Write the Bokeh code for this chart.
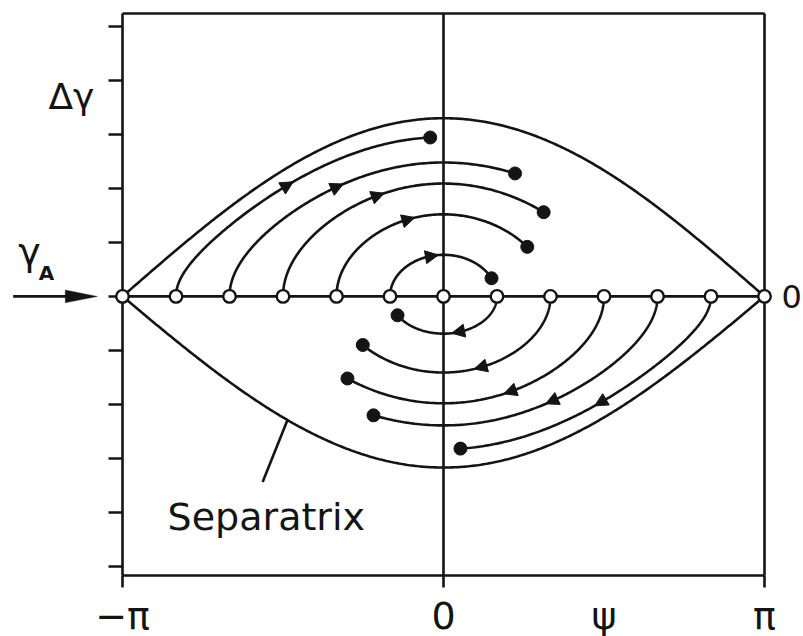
import numpy as np
from bokeh.plotting import figure
from bokeh.models import (Range1d, FixedTicker, Label, Arrow, NormalHead,
                          ColumnDataSource, LinearAxis, PolyAnnotation)
from bokeh.embed import file_html
from bokeh.resources import INLINE

PI = np.pi

# electrons enter on resonance (delta gamma = 0) at phases k * pi/6
entry_steps = list(range(-6, 7))

# separatrix half-heights above / below the resonant energy
sep_height_upper = 3.30
sep_height_lower = 3.17

# trajectories in the upper half (start left of psi = 0, move right)
upper_start_steps = [-5, -4, -3, -2, -1]
upper_peak = [2.95, 2.48, 2.09, 1.52, 0.77]
upper_end_phase = [-0.13, 0.70, 0.98, 0.82, 0.47]
upper_arrow_phase = [-1.53, -1.04, -0.64, -0.34, -0.11]

# trajectories in the lower half (start right of psi = 0, move left)
lower_start_steps = [1, 2, 3, 4, 5]
lower_peak = [0.69, 1.41, 1.98, 2.39, 2.83]
lower_end_phase = [-0.45, -0.79, -0.94, -0.685, 0.166]
lower_arrow_phase = [0.14, 0.36, 0.65, 1.06, 1.54]

# plotted box and its ticks
box_psi = (-PI, PI)
box_dgamma = (-5.17, 5.24)
y_ticks = [-5, -4, -3, -2, -1, 0, 1, 2, 3, 4, 5]
x_marks = [-PI, 0.0, PI]
x_label_pos = [-PI, 0.0, PI / 2, PI]
x_labels = ["\u2212\u03c0", "0", "\u03c8", "\u03c0"]

FONT = "DejaVu Sans"
INK = "#141414"
LW = 2.6

# canvas layout: the box sits inside the page with these margins (px)
W, H = 803, 636
M_LEFT, M_RIGHT, M_TOP, M_BOTTOM = 122, 39, 13, 61
sx = (W - M_LEFT - M_RIGHT) / (box_psi[1] - box_psi[0])
sy = (H - M_TOP - M_BOTTOM) / (box_dgamma[1] - box_dgamma[0])


def orbit(psi0, peak, psi):
    """Pendulum orbit through (psi0, 0) scaled to the given peak height."""
    r = (np.cos(psi) - np.cos(psi0)) / (1.0 - np.cos(psi0))
    return peak * np.sqrt(np.clip(r, 0.0, None))


p = figure(width=W, height=H,
           x_range=Range1d(box_psi[0] - M_LEFT / sx, box_psi[1] + M_RIGHT / sx),
           y_range=Range1d(box_dgamma[0] - M_BOTTOM / sy, box_dgamma[1] + M_TOP / sy),
           output_backend="svg", toolbar_location=None,
           min_border_left=0, min_border_right=0, min_border_top=0, min_border_bottom=0)
p.xgrid.visible = False
p.ygrid.visible = False
p.outline_line_color = None
p.background_fill_color = "white"
p.border_fill_color = "white"

# left axis along psi = -pi: unlabelled ticks
ya = p.yaxis[0]
ya.fixed_location = box_psi[0]
ya.bounds = box_dgamma
ya.ticker = FixedTicker(ticks=y_ticks)
ya.major_tick_out = 14
ya.major_tick_in = 0
ya.minor_tick_line_color = None
ya.major_tick_line_width = LW
ya.major_tick_line_color = INK
ya.axis_line_width = LW
ya.axis_line_color = INK
ya.major_label_text_color = None
ya.major_label_text_font_size = "1px"

# bottom axis: tick marks at -pi, 0, pi; labels include the phase symbol
xa = p.xaxis[0]
xa.fixed_location = box_dgamma[0]
xa.bounds = box_psi
xa.ticker = FixedTicker(ticks=x_label_pos, minor_ticks=x_marks)
xa.major_label_overrides = {t: s for t, s in zip(x_label_pos, x_labels)}
xa.major_tick_line_color = None
xa.major_tick_out = 0
xa.major_tick_in = 0
xa.minor_tick_out = 12
xa.minor_tick_in = 0
xa.minor_tick_line_width = LW
xa.minor_tick_line_color = INK
xa.axis_line_width = LW
xa.axis_line_color = INK
xa.major_label_text_font = FONT
xa.major_label_text_font_size = "38px"
xa.major_label_text_color = INK
xa.major_label_standoff = 6

# right axis along psi = pi: resonant energy marker
ra = LinearAxis(fixed_location=box_psi[1], bounds=box_dgamma,
                ticker=FixedTicker(ticks=[0]), major_label_overrides={0: "0"},
                major_tick_line_color=None, minor_tick_line_color=None,
                axis_line_color=INK, axis_line_width=LW,
                major_tick_out=0, major_tick_in=0,
                major_label_standoff=17, major_label_text_font=FONT,
                major_label_text_font_size="32px", major_label_text_color=INK)
p.add_layout(ra, "right")

# top edge of the box
ta = LinearAxis(fixed_location=box_dgamma[1], bounds=box_psi,
                ticker=FixedTicker(ticks=[]), major_tick_line_color=None,
                minor_tick_line_color=None, axis_line_color=INK, axis_line_width=LW,
                major_label_text_font_size="1px")
p.add_layout(ta, "above")

# reference lines through the bucket centre
p.line(list(box_psi), [0, 0], line_color=INK, line_width=LW)
p.line([0, 0], list(box_dgamma), line_color=INK, line_width=LW)

# separatrix
psi = np.linspace(-PI, PI, 361)
p.line(psi, sep_height_upper * np.cos(psi / 2), line_color=INK, line_width=LW)
p.line(psi, -sep_height_lower * np.cos(psi / 2), line_color=INK, line_width=LW)

# trajectories
xs, ys = [], []
dots_x, dots_y = [], []
arr = dict(x0=[], y0=[], x1=[], y1=[])
t = np.linspace(0, 1, 200) ** 2
for k, pk, pe, pa in zip(upper_start_steps, upper_peak, upper_end_phase, upper_arrow_phase):
    psi0 = k * PI / 6
    ps = psi0 + (pe - psi0) * t
    xs.append(list(ps))
    ys.append(list(orbit(psi0, pk, ps)))
    dots_x.append(pe)
    dots_y.append(float(orbit(psi0, pk, pe)))
    arr["x0"].append(pa - 0.06)
    arr["y0"].append(float(orbit(psi0, pk, pa - 0.06)))
    arr["x1"].append(pa + 0.06)
    arr["y1"].append(float(orbit(psi0, pk, pa + 0.06)))
for k, pk, pe, pa in zip(lower_start_steps, lower_peak, lower_end_phase, lower_arrow_phase):
    psi0 = k * PI / 6
    ps = psi0 + (pe - psi0) * t
    xs.append(list(ps))
    ys.append(list(-orbit(psi0, pk, ps)))
    dots_x.append(pe)
    dots_y.append(float(-orbit(psi0, pk, pe)))
    arr["x0"].append(pa + 0.06)
    arr["y0"].append(float(-orbit(psi0, pk, pa + 0.06)))
    arr["x1"].append(pa - 0.06)
    arr["y1"].append(float(-orbit(psi0, pk, pa - 0.06)))

p.multi_line(xs, ys, line_color=INK, line_width=LW)
p.add_layout(Arrow(source=ColumnDataSource(arr), x_start="x0", y_start="y0",
                   x_end="x1", y_end="y1", line_alpha=0,
                   end=NormalHead(size=13, fill_color=INK, line_color=INK, line_width=1)))

# electrons: entry positions and current positions
entry_x = [k * PI / 6 for k in entry_steps]
p.scatter(entry_x, [0] * len(entry_x), marker="circle", size=12.5,
          fill_color="white", line_color=INK, line_width=2.4, level="overlay")
p.scatter(dots_x, dots_y, marker="circle", size=13, fill_color=INK, line_color=INK)

# separatrix leader and label
lead_psi = -1.527
p.line([lead_psi, -1.77], [-sep_height_lower * np.cos(lead_psi / 2), -3.44],
       line_color=INK, line_width=LW)
p.add_layout(Label(x=-2.70, y=-4.09, text="Separatrix", text_font=FONT,
                   text_font_size="38px", text_color=INK, text_baseline="alphabetic"))

# energy axis name and the injection energy
p.add_layout(Label(x=-PI - 0.50, y=3.71, text="\u0394\u03b3", text_font=FONT,
                   text_font_size="36px", text_color=INK, text_align="center",
                   text_baseline="alphabetic"))
p.add_layout(Label(x=-PI - 1.02, y=0.83, text="\u03b3", text_font=FONT,
                   text_font_size="38px", text_color=INK, text_baseline="alphabetic"))
p.add_layout(Label(x=-PI - 0.82, y=0.43, text="A", text_font=FONT,
                   text_font_size="20px", text_font_style="bold", text_color=INK,
                   text_baseline="alphabetic"))

# injection arrow at gamma_A
p.add_layout(Arrow(x_start=-PI - 1.07, y_start=0.0, x_end=-PI - 0.52, y_end=0.0,
                   line_color=INK, line_width=LW, end=None))
p.add_layout(PolyAnnotation(xs=[-PI - 0.56, -PI - 0.245, -PI - 0.56],
                            ys=[0.12, 0.0, -0.12], fill_color=INK, fill_alpha=1.0,
                            line_color=INK, line_width=1))

open("out.html", "w").write(file_html(p, INLINE))
